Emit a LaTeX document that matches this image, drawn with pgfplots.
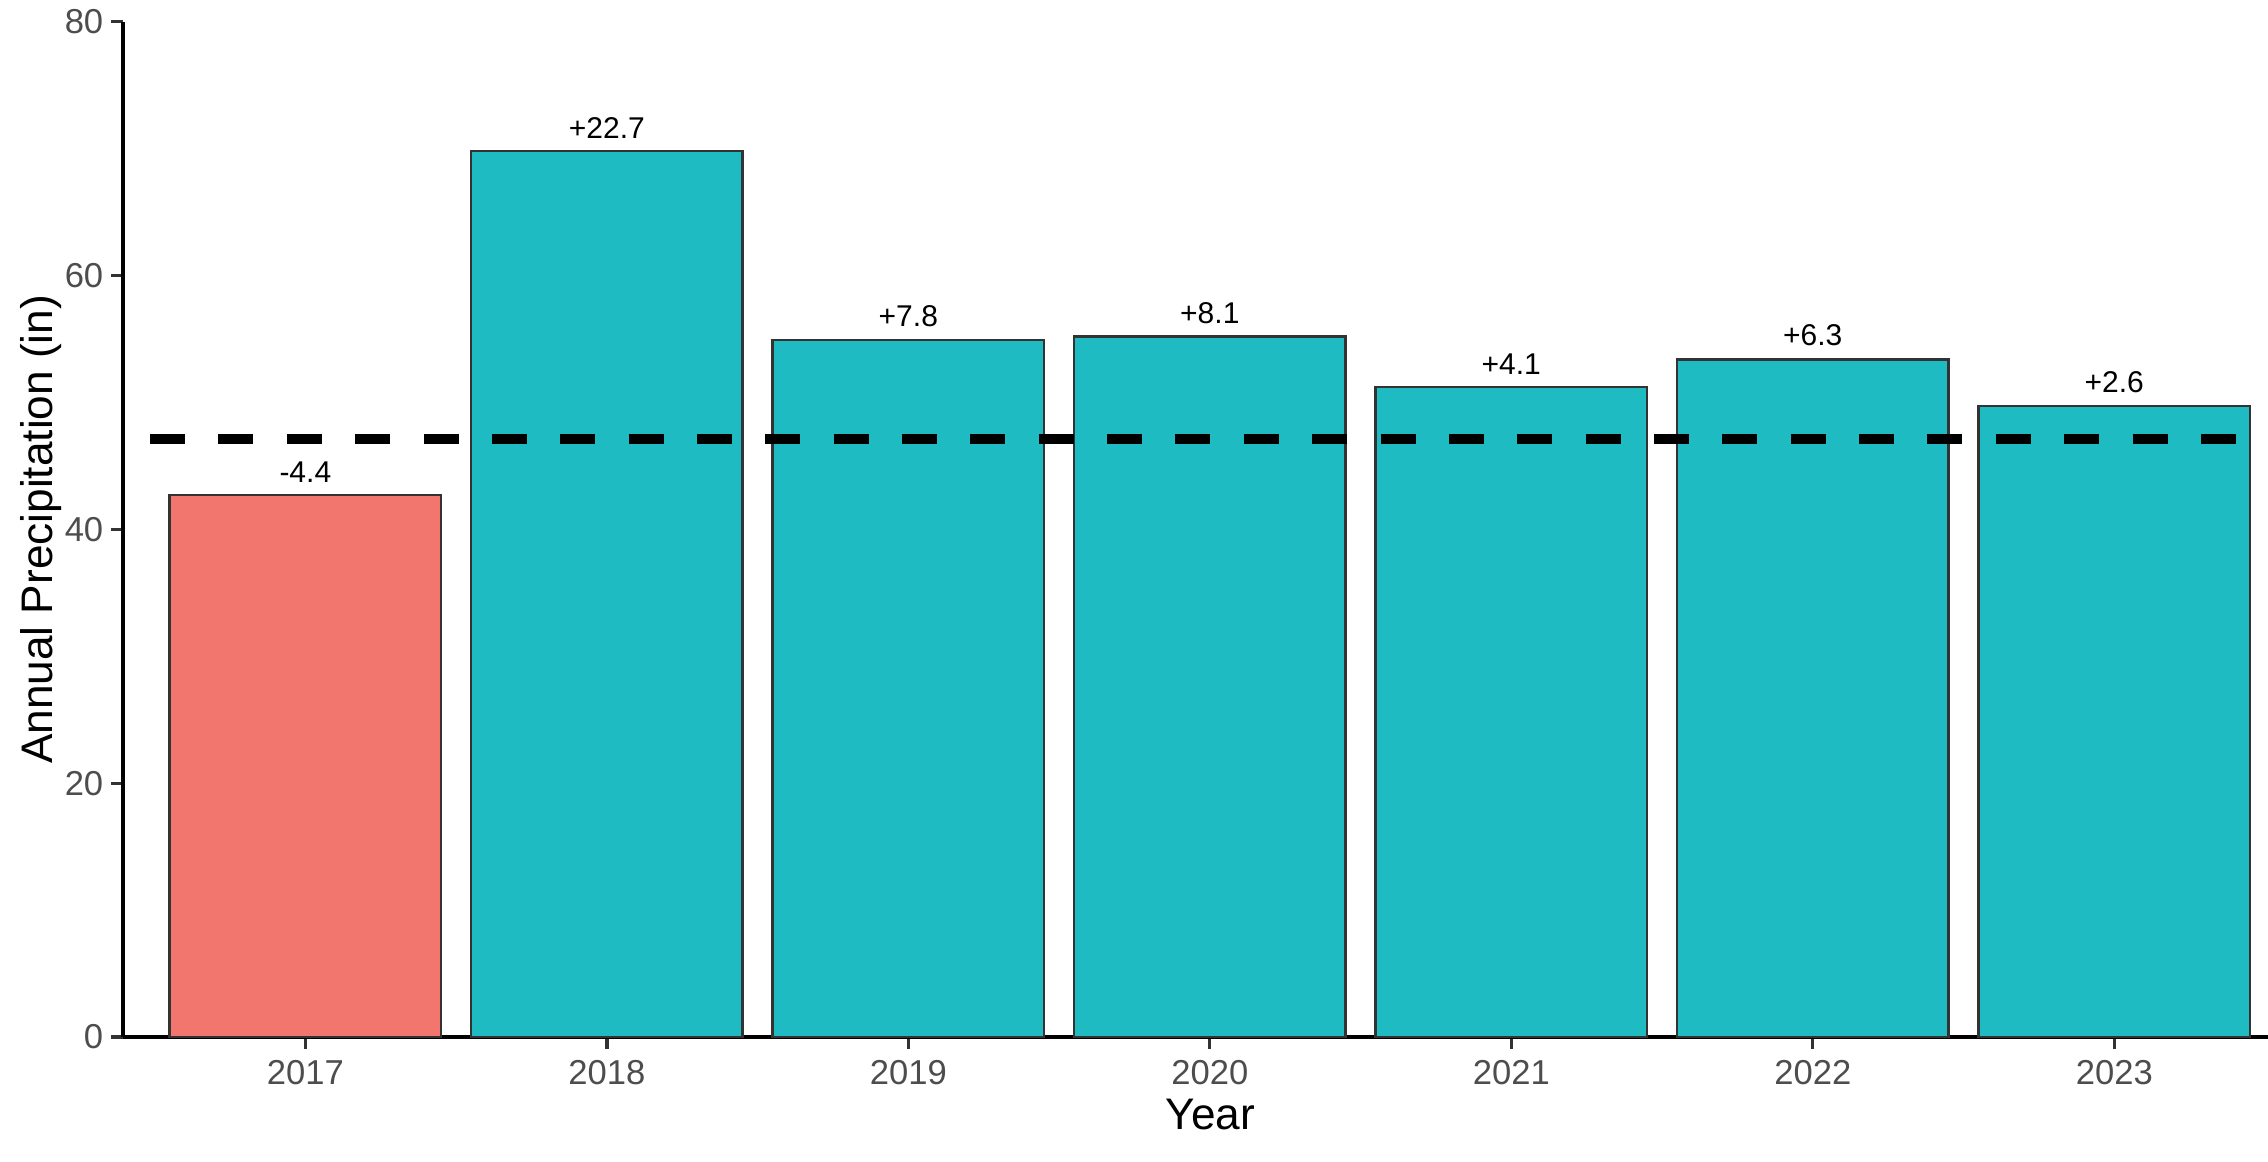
\documentclass[border=0pt]{standalone}
\usepackage{pgfplots}
\pgfplotsset{compat=1.18}
\usepackage{fontspec}
\setmainfont{Liberation Sans}
\definecolor{redbar}{HTML}{F3766E}
\definecolor{tealbar}{HTML}{1EBCC2}
\definecolor{ticktxt}{HTML}{4D4D4D}
\definecolor{edge}{HTML}{333333}
\begin{document}
\begin{tikzpicture}
\begin{axis}[
  name=ax,
  scale only axis,
  width=514.6pt, height=243.6pt,
  xmin=-0.605, xmax=6.51,
  ymin=0, ymax=80,
  ytick={0,20,40,60,80},
  xtick={0,1,2,3,4,5,6},
  xticklabels={2017,2018,2019,2020,2021,2022,2023},
  axis x line*=bottom, axis y line*=left,
  axis line style={black, line width=0.8pt},
  x axis line style={-}, y axis line style={-},
  tick align=outside,
  major tick length=2.8pt,
  tick style={edge, line width=0.8pt},
  /pgf/number format/assume math mode=true,
  tick label style={font=\fontsize{8.3}{10}\selectfont, text=ticktxt},
  xticklabel style={yshift=0.8pt},
  yticklabel style={xshift=1.6pt},
  ylabel={Annual Precipitation (in)},
  xlabel={Year},
  label style={font=\fontsize{10.6}{12}\selectfont},
  xlabel style={at={(axis description cs:0.507,0)}, anchor=center, yshift=-18.7pt},
  ylabel style={at={(axis description cs:0,0.5)}, anchor=center, rotate=0, yshift=19.6pt},
  ybar, bar width=0.9, bar shift=0pt,
  clip=false,
  nodes near coords={\pgfplotspointmeta},
  point meta=explicit symbolic,
  nodes near coords style={font=\fontsize{7.2}{8.5}\selectfont, text=black, anchor=south, yshift=-0.5pt},
]
\addplot[fill=redbar, draw=edge, line width=0.6pt] coordinates {(0,42.7) [-4.4]};
\addplot[fill=tealbar, draw=edge, line width=0.6pt] coordinates {
  (1,69.8) [+22.7]
  (2,54.9) [+7.8]
  (3,55.2) [+8.1]
  (4,51.2) [+4.1]
  (5,53.4) [+6.3]
  (6,49.7) [+2.6]
};
\addplot[sharp plot, nodes near coords={}, black, line width=2.4pt, dash pattern=on 8.4pt off 8pt, dash phase=-6.5pt] coordinates {(-0.605,47.1) (6.51,47.1)};
\end{axis}
\pgfresetboundingbox
\useasboundingbox ([xshift=-29.5pt,yshift=-29.8pt]ax.south west) rectangle ([yshift=5.2pt]ax.north east);
\end{tikzpicture}
\end{document}
